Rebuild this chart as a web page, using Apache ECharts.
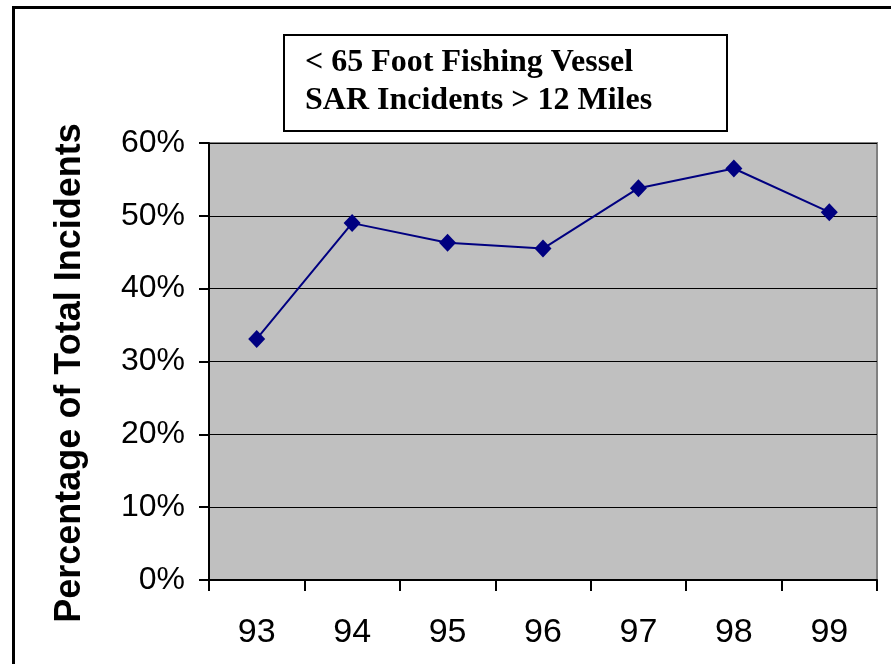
<!DOCTYPE html>
<html><head><meta charset="utf-8">
<script src="https://cdn.jsdelivr.net/npm/echarts@6/dist/echarts.min.js"></script>
<style>html,body{margin:0;padding:0;background:#fff}#c{width:891px;height:664px}</style>
</head><body><div id="c"></div>
<script>
const categories = ['93','94','95','96','97','98','99'];
const values = [33.1, 49.0, 46.3, 45.5, 53.8, 56.5, 50.5];
const yTicks = [0, 10, 20, 30, 40, 50, 60];
const titleLines = ['< 65 Foot Fishing Vessel', 'SAR Incidents > 12 Miles'];
const yTitle = 'Percentage of Total Incidents';

const chart = echarts.init(document.getElementById('c'));
chart.setOption({
  animation: false,
  backgroundColor: '#ffffff',
  grid: {left: 209, right: 14, top: 143, bottom: 84, show: true,
         backgroundColor: '#C0C0C0', borderColor: '#808080', borderWidth: 2},
  xAxis: {
    type: 'category', data: categories, boundaryGap: true,
    axisLine: {lineStyle: {color: '#000', width: 2}},
    axisTick: {show: true, length: 11, lineStyle: {color: '#000', width: 2}},
    axisLabel: {color: '#000', fontFamily: 'Liberation Sans, Arial', fontSize: 34, margin: 36}
  },
  yAxis: {
    type: 'value', min: yTicks[0], max: yTicks[yTicks.length-1], interval: 10,
    axisLine: {show: true, lineStyle: {color: '#000', width: 2}},
    axisTick: {show: true, length: 10, lineStyle: {color: '#000', width: 2}},
    splitLine: {show: true, lineStyle: {color: '#000', width: 1}},
    axisLabel: {color: '#000', fontFamily: 'Liberation Sans, Arial', fontSize: 32, margin: 24,
                formatter: v => v + '%'}
  },
  series: [{
    type: 'line', data: values,
    symbol: 'diamond', symbolSize: [17, 18],
    lineStyle: {color: '#000080', width: 2},
    itemStyle: {color: '#000080'}
  }],
  graphic: [
    {type: 'rect', left: 11, top: 5, shape: {width: 1000, height: 1000},
     style: {fill: 'none', stroke: '#000', lineWidth: 3}, z: 0},
    {type: 'text', x: 70, y: 373, rotation: Math.PI / 2, z: 11,
     style: {text: yTitle, fill: '#000', font: 'bold 36px "Liberation Sans", Arial, sans-serif',
             textAlign: 'center', textVerticalAlign: 'middle'}},
    {type: 'rect', shape: {x: 284, y: 35, width: 443, height: 96},
     style: {fill: '#fff', stroke: '#000', lineWidth: 2}, z: 10},
    {type: 'text', x: 305, y: 63, z: 11,
     style: {text: titleLines[0], fill: '#000', font: 'bold 32px "Liberation Serif", "Times New Roman", serif', textVerticalAlign: 'middle'}},
    {type: 'text', x: 305, y: 101, z: 11,
     style: {text: titleLines[1], fill: '#000', font: 'bold 32px "Liberation Serif", "Times New Roman", serif', textVerticalAlign: 'middle'}}
  ]
});
</script></body></html>
